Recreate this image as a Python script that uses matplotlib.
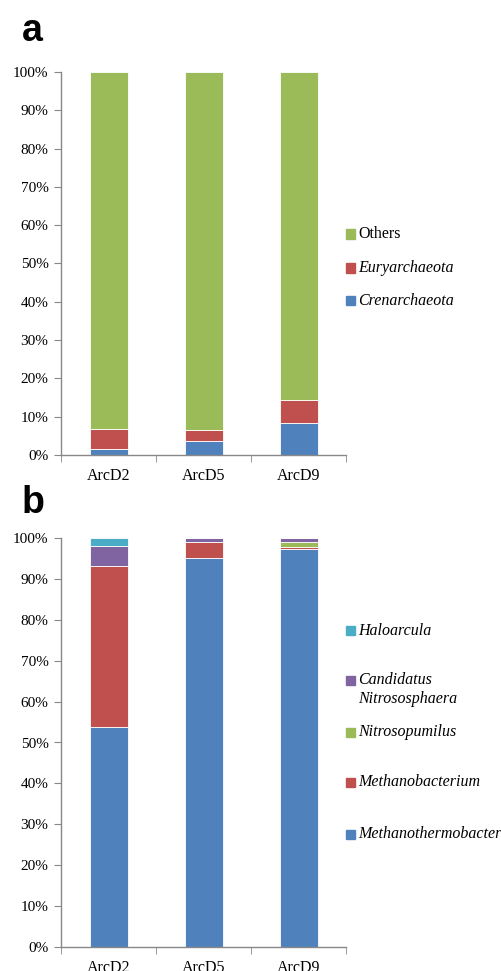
import matplotlib
matplotlib.use("Agg")
import matplotlib.pyplot as plt
from matplotlib.patches import Rectangle
import numpy as np

plt.rcParams['font.family'] = ['Liberation Serif', 'DejaVu Serif']

samples = ["ArcD2", "ArcD5", "ArcD9"]

# panel a: phylum level (%)
phyla = ["Crenarchaeota", "Euryarchaeota", "Others"]
crenarchaeota = [1.5, 3.6, 8.4]
euryarchaeota = [5.3, 2.9, 6.0]
others = [93.2, 93.5, 85.6]

# panel b: genus level (%)
genera = ["Methanothermobacter", "Methanobacterium", "Nitrosopumilus",
          "Candidatus\nNitrososphaera", "Haloarcula"]
methanothermobacter = [53.8, 95.2, 97.2]
methanobacterium = [39.4, 3.7, 0.6]
nitrosopumilus = [0.0, 0.0, 1.2]
candidatus_nitrososphaera = [4.8, 1.1, 1.0]
haloarcula = [2.0, 0.0, 0.0]

colors_a = ["#4F81BD", "#C0504D", "#9BBB59"]
colors_b = ["#4F81BD", "#C0504D", "#9BBB59", "#8064A2", "#4BACC6"]

W, H = 501, 971
fig = plt.figure(figsize=(W / 100, H / 100), dpi=100)


def px_axes(left, top, right, bottom):
    return fig.add_axes([left / W, 1 - bottom / H, (right - left) / W, (bottom - top) / H])


def stacked(ax, series, colors):
    x = np.arange(len(samples))
    base = np.zeros(len(samples))
    for vals, c in zip(series, colors):
        ax.bar(x, vals, 0.4, bottom=base, color=c, edgecolor="white", linewidth=0.6)
        base += np.array(vals)
    ax.set_xlim(-0.5, len(samples) - 0.5)
    ax.set_ylim(0, 100)
    ax.set_yticks(np.arange(0, 101, 10))
    ax.set_yticklabels([f"{v}%" for v in range(0, 101, 10)], fontsize=11)
    ax.set_xticks(x)
    ax.set_xticklabels(samples, fontsize=11.5)
    ax.set_xticks(np.arange(-0.5, len(samples), 1), minor=True)
    ax.tick_params(axis="x", which="major", length=0, pad=9)
    ax.tick_params(axis="x", which="minor", length=5, color="#888888")
    ax.tick_params(axis="y", length=5, color="#888888", pad=4)
    for s in ["top", "right"]:
        ax.spines[s].set_visible(False)
    for s in ["left", "bottom"]:
        ax.spines[s].set_color("#888888")
        ax.spines[s].set_linewidth(1.0)


def legend(entries, colors, ys, italic):
    for lab, c, y, it in zip(entries, colors, ys, italic):
        fig.patches.append(Rectangle((346 / W, 1 - (y + 4.5) / H), 9 / W, 9 / H,
                                     transform=fig.transFigure, color=c))
        fig.text(358 / W, 1 - (y - 8) / H, lab, fontsize=11.5, va="top",
                 style="italic" if it else "normal", linespacing=1.25)


ax_a = px_axes(61, 72, 346, 455)
stacked(ax_a, [crenarchaeota, euryarchaeota, others], colors_a)
legend(phyla[::-1], colors_a[::-1], [234, 268, 301], [False, True, True])

ax_b = px_axes(61, 538, 346, 947)
stacked(ax_b, [methanothermobacter, methanobacterium, nitrosopumilus,
               candidatus_nitrososphaera, haloarcula], colors_b)
legend(genera[::-1], colors_b[::-1], [631, 680, 732, 782, 834], [True] * 5)

fig.text(22 / W, 1 - 13 / H, "a", fontsize=27, fontweight="bold",
         family="Liberation Sans", va="top")
fig.text(22 / W, 1 - 485 / H, "b", fontsize=27, fontweight="bold",
         family="Liberation Sans", va="top")

fig.savefig("out.png", dpi=100)
